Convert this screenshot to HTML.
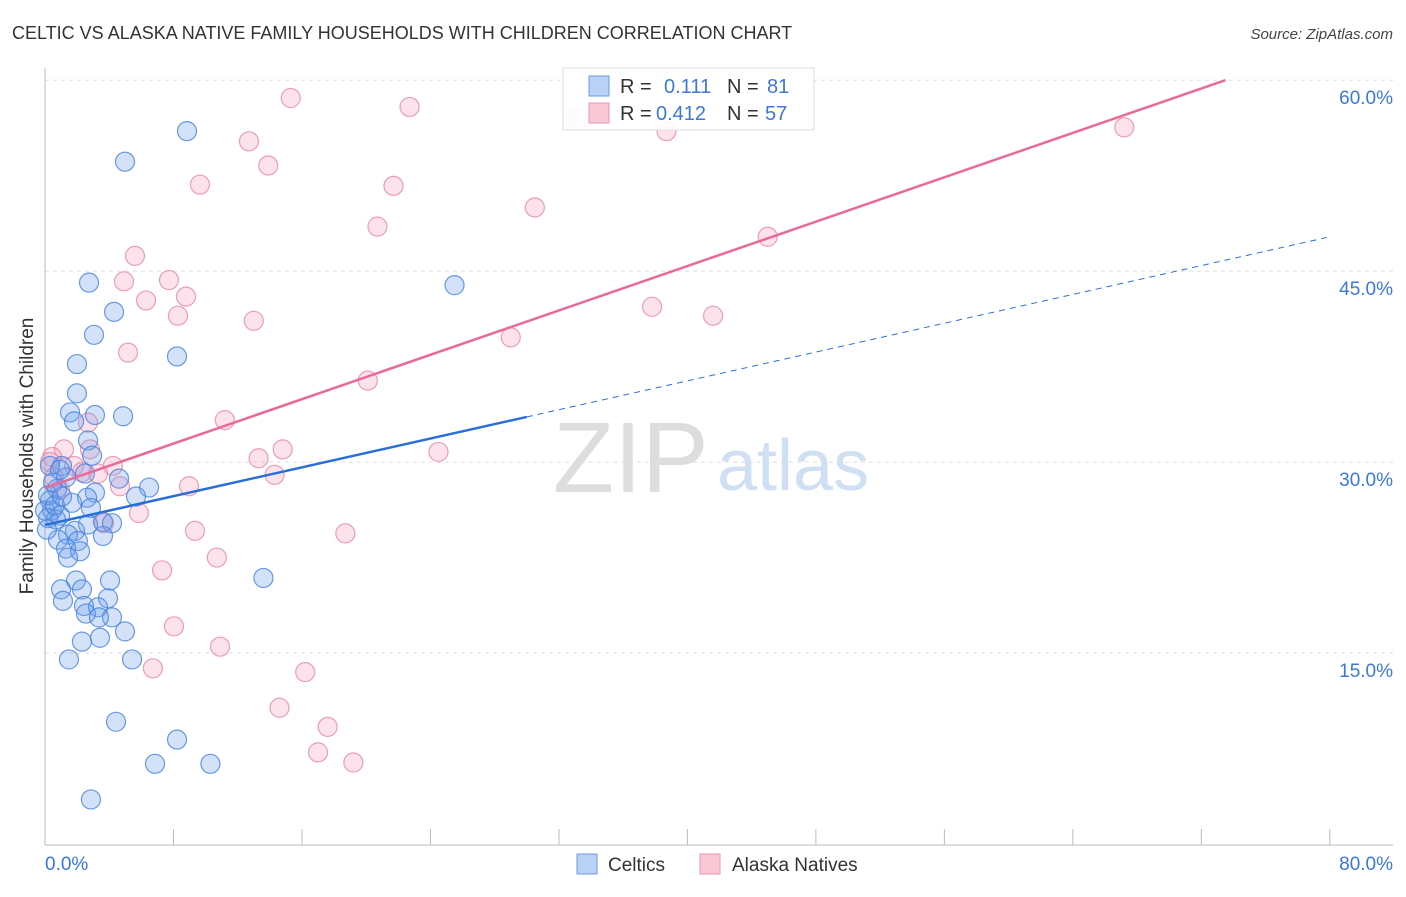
<!DOCTYPE html>
<html><head><meta charset="utf-8"><style>
body{margin:0;background:#fff;font-family:"Liberation Sans",sans-serif;}
svg text{font-family:"Liberation Sans",sans-serif;}
</style></head><body>
<svg id="chart" width="1406" height="892" xmlns="http://www.w3.org/2000/svg">
<text x="12" y="39" font-size="18" fill="#333">CELTIC VS ALASKA NATIVE FAMILY HOUSEHOLDS WITH CHILDREN CORRELATION CHART</text>
<text x="1393" y="39" font-size="15" font-style="italic" fill="#444" text-anchor="end">Source: ZipAtlas.com</text>
<g>
<text x="553" y="492" font-size="100" font-family="Liberation Serif" fill="#ddd">ZIP</text>
<text x="717" y="490" font-size="72" fill="#cfe0f4">atlas</text>
</g>
<g id="grid"></g><g id="axes"></g><g id="pts"></g><g id="trend"></g>
<text x="33" y="456" font-size="19" fill="#333" text-anchor="middle" transform="rotate(-90 33 456)">Family Households with Children</text>
<g>
<rect x="563" y="68" width="251" height="62" fill="rgba(255,255,255,0.9)" stroke="#ddd"/>
<rect x="589" y="76" width="20" height="20" fill="#b8d1f5" stroke="#6a9be6"/>
<text x="620" y="93" font-size="20" fill="#333">R = </text><text x="664" y="93" font-size="20" fill="#3b78d8">0.111</text>
<text x="727" y="93" font-size="20" fill="#333">N = </text><text x="767" y="93" font-size="20" fill="#3b78d8">81</text>
<rect x="589" y="103" width="20" height="20" fill="#f9c8d6" stroke="#ea94ad"/>
<text x="620" y="120" font-size="20" fill="#333">R = </text><text x="656" y="120" font-size="20" fill="#3b78d8">0.412</text>
<text x="727" y="120" font-size="20" fill="#333">N = </text><text x="765" y="120" font-size="20" fill="#3b78d8">57</text>
</g>
<g>
<rect x="577" y="854" width="20" height="20" fill="#b8d1f5" stroke="#6a9be6"/>
<text x="608" y="871" font-size="19" fill="#333">Celtics</text>
<rect x="700" y="854" width="20" height="20" fill="#f9c8d6" stroke="#ea94ad"/>
<text x="732" y="871" font-size="19" fill="#333">Alaska Natives</text>
</g>
</svg>
<script>
const yTicks=[15,30,45,60];
const xTickLabels=["0.0%","80.0%"];
const blueX=[8.84,4.98,2.74,4.30,25.5,3.05,8.22,1.99,1.99,1.56,3.11,4.86,1.81,2.68,2.93,1.06,0.31,2.49,4.61,6.48,0.75,3.11,5.67,2.62,1.68,2.86,0.31,0.44,0.93,0.19,0.68,3.61,4.17,2.68,1.87,1.43,3.61,0.81,2.05,1.31,2.18,1.43,13.6,1.93,4.05,2.30,1.00,3.92,1.12,2.43,3.30,2.55,4.17,3.36,4.98,3.42,2.30,5.42,1.49,4.42,8.22,6.85,10.3,2.86,0,0.19,0.62,1.06,0.12,0.5,1.31,0.93];
const blueY=[56.0,53.6,44.1,41.8,43.9,40.0,38.3,37.7,35.4,33.9,33.7,33.6,33.2,31.7,30.5,29.7,29.7,29.1,28.7,28.0,27.9,27.6,27.3,27.2,26.8,26.4,27.0,26.2,25.8,25.6,25.5,25.3,25.2,25.1,24.6,24.3,24.2,23.9,23.8,23.2,23.0,22.5,20.9,20.7,20.7,20.0,20.0,19.3,19.1,18.7,18.6,18.1,17.8,17.8,16.7,16.2,15.9,14.5,14.5,9.6,8.2,6.3,6.3,3.5,26.2,27.4,26.6,27.3,24.7,28.4,28.8,29.4];
const pinkX=[15.3,22.7,33.1,38.7,67.2,12.7,13.9,9.65,21.7,30.5,20.7,45.0,5.60,4.92,7.72,6.29,8.78,8.28,37.8,41.6,13.0,5.17,29.0,20.1,11.2,2.68,1.18,2.80,0.44,24.5,14.8,13.3,1.81,4.23,3.30,2.30,14.3,4.67,8.97,3.67,5.85,18.7,9.34,10.7,7.29,8.03,10.9,6.72,16.2,14.6,17.6,17.0,19.2,0.31,0.93,0.56];
const pinkY=[58.6,57.9,56.9,56.0,56.3,55.2,53.3,51.8,51.7,50.0,48.5,47.7,46.2,44.2,44.3,42.7,43.0,41.5,42.2,41.5,41.1,38.6,39.8,36.4,33.3,33.1,31.0,31.0,30.4,30.8,31.0,30.3,29.7,29.7,29.1,29.2,29.0,28.1,28.1,25.2,26.0,24.4,24.6,22.5,21.5,17.1,15.5,13.8,13.5,10.7,9.2,7.2,6.4,30.0,27.8,28.8];
const blueTrend=[25.06,47.7];
const blueSolidEnd=30;
const pinkTrend=[27.97,60];
const pinkEndX=73.5;
const NS="http://www.w3.org/2000/svg";
const X=v=>45+v*16.06, Y=v=>844-v*12.73;
function mk(tag,attrs,parent){const e=document.createElementNS(NS,tag);for(const k in attrs)e.setAttribute(k,attrs[k]);parent.appendChild(e);return e;}
const grid=document.getElementById('grid'),axes=document.getElementById('axes'),pts=document.getElementById('pts'),tr=document.getElementById('trend');
yTicks.forEach(t=>{
 const l=mk('line',{x1:45,x2:1393,y1:Y(t),y2:Y(t),stroke:'#ddd','stroke-dasharray':'4 4'},grid);
 
 
 const tx=mk('text',{x:1393,y:Y(t)+24,'font-size':19,fill:'#3b78d8','text-anchor':'end'},grid);
 tx.textContent=t.toFixed(1)+'%';
 
 
});
const ax=mk('line',{x1:45,x2:1393,y1:845,y2:845,stroke:'#bbb'},axes);


const ay=mk('line',{x1:45,x2:45,y1:68,y2:845,stroke:'#bbb'},axes);


for(let i=0;i<=10;i++){
 const t=mk('line',{x1:X(i*8),x2:X(i*8),y1:829,y2:845,stroke:'#bbb'},axes);
 
 
}
[[0,'start',45],[80,'end',1393]].forEach((d,i)=>{
 const t=mk('text',{x:d[2],y:870,'font-size':19,fill:'#3b78d8','text-anchor':d[1]},axes);
 t.textContent=xTickLabels[i];
 
 
});
pinkX.forEach((v,i)=>{
 const c=mk('circle',{cx:X(v),cy:Y(pinkY[i]),r:9.5,fill:'rgba(244,160,188,0.3)',stroke:'rgba(230,130,160,0.75)','stroke-width':1.2},pts);
 
 
});
blueX.forEach((v,i)=>{
 const c=mk('circle',{cx:X(v),cy:Y(blueY[i]),r:9.5,fill:'rgba(110,160,235,0.3)',stroke:'rgba(70,130,220,0.8)','stroke-width':1.2},pts);
 
 
});
const bAt=x=>blueTrend[0]+(blueTrend[1]-blueTrend[0])*x/80;
const b1=mk('line',{x1:X(0),y1:Y(bAt(0)),x2:X(blueSolidEnd),y2:Y(bAt(blueSolidEnd)),stroke:'#2a6fd6','stroke-width':2.5},tr);


const b2=mk('line',{x1:X(blueSolidEnd),y1:Y(bAt(blueSolidEnd)),x2:X(80),y2:Y(bAt(80)),stroke:'#2a6fd6','stroke-width':1,'stroke-dasharray':'6 5'},tr);


const p1=mk('line',{x1:X(0),y1:Y(pinkTrend[0]),x2:X(pinkEndX),y2:Y(pinkTrend[1]),stroke:'#e8699a','stroke-width':2.5},tr);


</script>
</body></html>
